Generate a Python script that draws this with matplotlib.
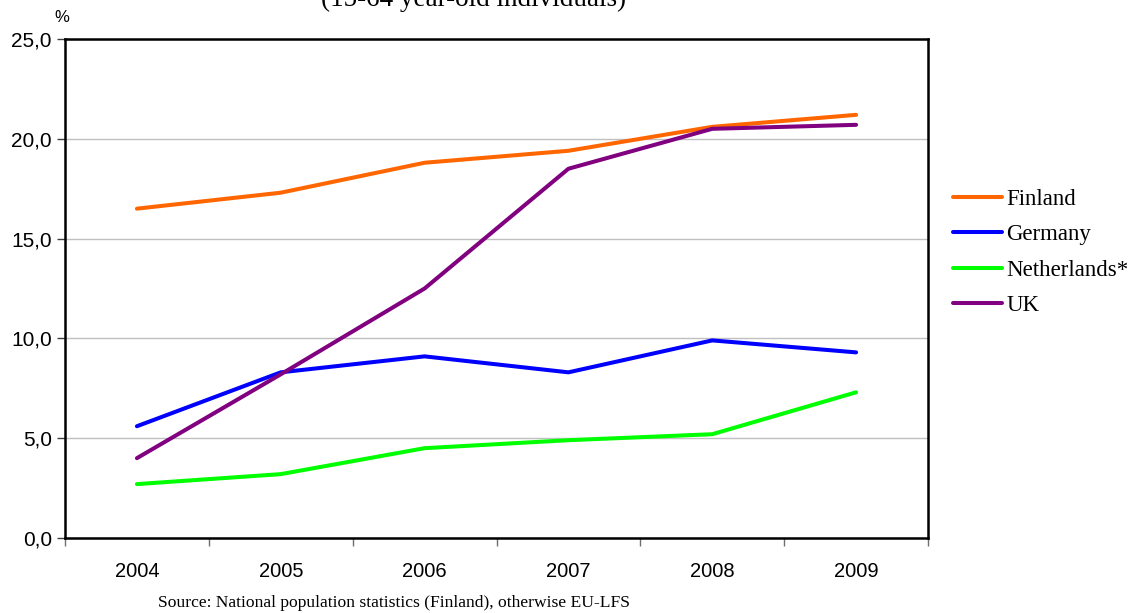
import matplotlib
matplotlib.use("Agg")
import matplotlib.pyplot as plt
from matplotlib.ticker import FixedLocator, NullFormatter, FixedFormatter

# Data: share of individuals (15-64 years), %
years = ["2004", "2005", "2006", "2007", "2008", "2009"]
finland = [16.5, 17.3, 18.8, 19.4, 20.6, 21.2]
germany = [5.6, 8.3, 9.1, 8.3, 9.9, 9.3]
netherlands = [2.7, 3.2, 4.5, 4.9, 5.2, 7.3]
uk = [4.0, 8.2, 12.5, 18.5, 20.5, 20.7]

series_names = ["Finland", "Germany", "Netherlands*", "UK"]
series_values = [finland, germany, netherlands, uk]
series_colors = ["#FF6600", "#0000FF", "#00FF00", "#800080"]

y_ticks = [0, 5, 10, 15, 20, 25]
y_tick_labels = ["0,0", "5,0", "10,0", "15,0", "20,0", "25,0"]

SANS = "Liberation Sans"
SERIF = "Liberation Serif"

fig = plt.figure(figsize=(11.31, 6.13), dpi=100)
ax = fig.add_axes([65 / 1131, 1 - 538 / 613, (928 - 65) / 1131, (538 - 39) / 613])

x = list(range(len(years)))
handles = []
for name, vals, col in zip(series_names, series_values, series_colors):
    (ln,) = ax.plot(x, vals, color=col, linewidth=2.9, solid_capstyle="round",
                    solid_joinstyle="round", label=name, zorder=3)
    handles.append(ln)

ax.set_xlim(-0.5, len(years) - 0.5)
ax.set_ylim(0, 25)

# y axis
ax.set_yticks(y_ticks)
ax.set_yticklabels(y_tick_labels, fontfamily=SANS, fontsize=15)
ax.tick_params(axis="y", direction="out", length=6, width=1, color="#404040", pad=3.5)
ax.yaxis.grid(True, color="#C0C0C0", linewidth=1)
ax.set_axisbelow(True)

# x axis: tick marks between categories, labels at category centres
ax.xaxis.set_major_locator(FixedLocator([i - 0.5 for i in range(len(years) + 1)]))
ax.xaxis.set_major_formatter(NullFormatter())
ax.xaxis.set_minor_locator(FixedLocator(x))
ax.xaxis.set_minor_formatter(FixedFormatter(years))
ax.tick_params(axis="x", which="major", direction="out", length=6, width=1, color="#707070")
ax.tick_params(axis="x", which="minor", length=0, pad=17, labelsize=14.5)
for lbl in ax.xaxis.get_minorticklabels():
    lbl.set_fontfamily(SANS)

for sp in ax.spines.values():
    sp.set_linewidth(1.8)
    sp.set_color("black")

fig.text(62 / 1131, 1 - 17 / 613, "%", ha="center", va="center",
         fontfamily=SANS, fontsize=12)

fig.text(474 / 1131, 1 - 6 / 613, "(15-64 year-old individuals)", ha="center",
         va="baseline", fontfamily=SERIF, fontsize=19.5)

fig.text(158 / 1131, 1 - 607 / 613,
         "Source: National population statistics (Finland), otherwise EU-LFS",
         ha="left", va="baseline", fontfamily=SERIF, fontsize=12.6)

fig.legend(handles, series_names, loc="upper left",
           bbox_to_anchor=(953 / 1131, 1 - 189 / 613), frameon=False,
           prop={"family": SERIF, "size": 16.5}, handlelength=2.15,
           handletextpad=0.18, labelspacing=0.62, borderpad=0, borderaxespad=0)

fig.savefig("out.png", dpi=100, facecolor="white")
